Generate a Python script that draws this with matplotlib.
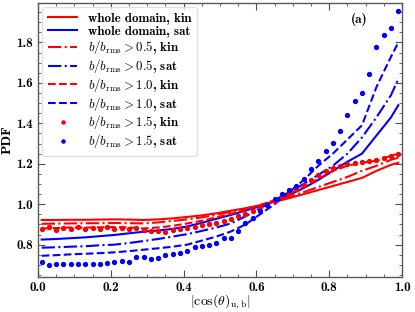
import numpy as np
import matplotlib
matplotlib.use("Agg")
import matplotlib.pyplot as plt
from matplotlib.ticker import MultipleLocator

plt.rcParams['font.family'] = ['cmb10', 'DejaVu Serif']
plt.rcParams['mathtext.fontset'] = 'cm'
plt.rcParams['axes.unicode_minus'] = False

# bin centres for lines (read every 0.04) and for the dotted series (every 0.02)
x_line = [0.01, 0.05, 0.09, 0.13, 0.17, 0.21, 0.25, 0.29, 0.33, 0.37, 0.41, 0.45, 0.49,
          0.53, 0.57, 0.61, 0.65, 0.69, 0.73, 0.77, 0.81, 0.85, 0.89, 0.93, 0.97, 0.99]
x_dots = [0.01 + 0.02 * i for i in range(50)]

# whole domain
kin_all = [0.922, 0.922, 0.923, 0.923, 0.924, 0.925, 0.924, 0.922, 0.925, 0.930, 0.937, 0.945, 0.955,
           0.968, 0.980, 0.995, 1.012, 1.030, 1.050, 1.070, 1.090, 1.110, 1.130, 1.165, 1.195, 1.205]
sat_all = [0.825, 0.828, 0.832, 0.836, 0.842, 0.848, 0.856, 0.864, 0.870, 0.878, 0.890, 0.908, 0.928,
           0.947, 0.968, 0.990, 1.015, 1.045, 1.080, 1.120, 1.165, 1.210, 1.250, 1.340, 1.430, 1.490]
# b/brms > 0.5
kin_05 = [0.903, 0.904, 0.905, 0.906, 0.906, 0.907, 0.906, 0.905, 0.910, 0.917, 0.925, 0.935, 0.948,
          0.962, 0.978, 0.995, 1.015, 1.037, 1.060, 1.085, 1.110, 1.135, 1.165, 1.190, 1.220, 1.230]
sat_05 = [0.785, 0.787, 0.790, 0.792, 0.797, 0.800, 0.808, 0.818, 0.828, 0.840, 0.852, 0.868, 0.885,
          0.905, 0.940, 0.980, 1.020, 1.060, 1.100, 1.145, 1.190, 1.250, 1.330, 1.430, 1.540, 1.620]
# b/brms > 1.0
kin_10 = [0.880, 0.882, 0.885, 0.884, 0.886, 0.887, 0.885, 0.880, 0.885, 0.893, 0.905, 0.918, 0.935,
          0.952, 0.972, 0.995, 1.020, 1.050, 1.085, 1.125, 1.165, 1.190, 1.205, 1.215, 1.240, 1.250]
sat_10 = [0.745, 0.748, 0.752, 0.755, 0.758, 0.762, 0.768, 0.775, 0.782, 0.790, 0.800, 0.820, 0.840,
          0.865, 0.900, 0.950, 1.000, 1.060, 1.120, 1.190, 1.250, 1.320, 1.390, 1.580, 1.730, 1.800]
# b/brms > 1.5
kin_15 = [0.875, 0.885, 0.872, 0.882, 0.878, 0.888, 0.876, 0.884, 0.879, 0.886,
          0.878, 0.884, 0.876, 0.882, 0.872, 0.866, 0.868, 0.864, 0.872, 0.876,
          0.884, 0.888, 0.895, 0.902, 0.908, 0.918, 0.928, 0.940, 0.952, 0.965,
          0.985, 1.000, 1.018, 1.035, 1.055, 1.075, 1.095, 1.120, 1.145, 1.165,
          1.180, 1.190, 1.200, 1.205, 1.210, 1.215, 1.220, 1.228, 1.240, 1.250]
sat_15 = [0.715, 0.698, 0.702, 0.703, 0.703, 0.703, 0.702, 0.705, 0.705, 0.708,
          0.715, 0.717, 0.713, 0.738, 0.740, 0.728, 0.732, 0.748, 0.753, 0.757,
          0.768, 0.788, 0.795, 0.800, 0.808, 0.832, 0.835, 0.867, 0.905, 0.933,
          0.967, 0.998, 1.028, 1.050, 1.072, 1.092, 1.125, 1.175, 1.212, 1.263,
          1.303, 1.363, 1.442, 1.513, 1.552, 1.642, 1.778, 1.837, 1.870, 1.955]

fig = plt.figure(figsize=(4.15, 3.12), dpi=100)
ax = fig.add_axes([0.0916, 0.1122, 0.877, 0.878])

lw = 1.5
ax.plot(x_line, kin_all, color='red', lw=lw, ls='-', label='whole domain, kin')
ax.plot(x_line, sat_all, color='blue', lw=lw, ls='-', label='whole domain, sat')
ax.plot(x_line, kin_05, color='red', lw=lw, ls='-.', label=r'$b/b_{\rm rms}>0.5$, kin')
ax.plot(x_line, sat_05, color='blue', lw=lw, ls='-.', label=r'$b/b_{\rm rms}>0.5$, sat')
ax.plot(x_line, kin_10, color='red', lw=lw, ls='--', label=r'$b/b_{\rm rms}>1.0$, kin')
ax.plot(x_line, sat_10, color='blue', lw=lw, ls='--', label=r'$b/b_{\rm rms}>1.0$, sat')
ax.plot(x_dots, kin_15, color='red', ls='none', marker='o', ms=2.8, label=r'$b/b_{\rm rms}>1.5$, kin')
ax.plot(x_dots, sat_15, color='blue', ls='none', marker='o', ms=2.8, label=r'$b/b_{\rm rms}>1.5$, sat')

ax.set_xlim(0, 1.0)
ax.set_ylim(0.64, 1.995)
ax.xaxis.set_major_locator(MultipleLocator(0.2))
ax.xaxis.set_minor_locator(MultipleLocator(0.05))
ax.yaxis.set_major_locator(MultipleLocator(0.2))
ax.yaxis.set_minor_locator(MultipleLocator(0.05))
ax.tick_params(which='both', direction='in', top=True, right=True, labelsize=9.5, color='0.3')
ax.tick_params(which='major', length=5)
ax.tick_params(which='minor', length=2.5)
for s in ax.spines.values():
    s.set_color('0.35')
    s.set_linewidth(1.0)

ax.set_xlabel(r'$|\cos(\theta)_{\rm u,b}|$', fontsize=10, labelpad=-1)
ax.set_ylabel('PDF', fontsize=10, labelpad=2)
ax.text(0.882, 0.94, '(a)', transform=ax.transAxes, ha='center', va='center', fontsize=9.5)

leg = ax.legend(loc='upper left', fontsize=9.3, handlelength=2.3, labelspacing=0.06,
                borderaxespad=0.3, borderpad=0.45, numpoints=1, markerscale=0.8, fancybox=True)
leg.get_frame().set_edgecolor('0.85')

fig.savefig('out.png', dpi=100)
